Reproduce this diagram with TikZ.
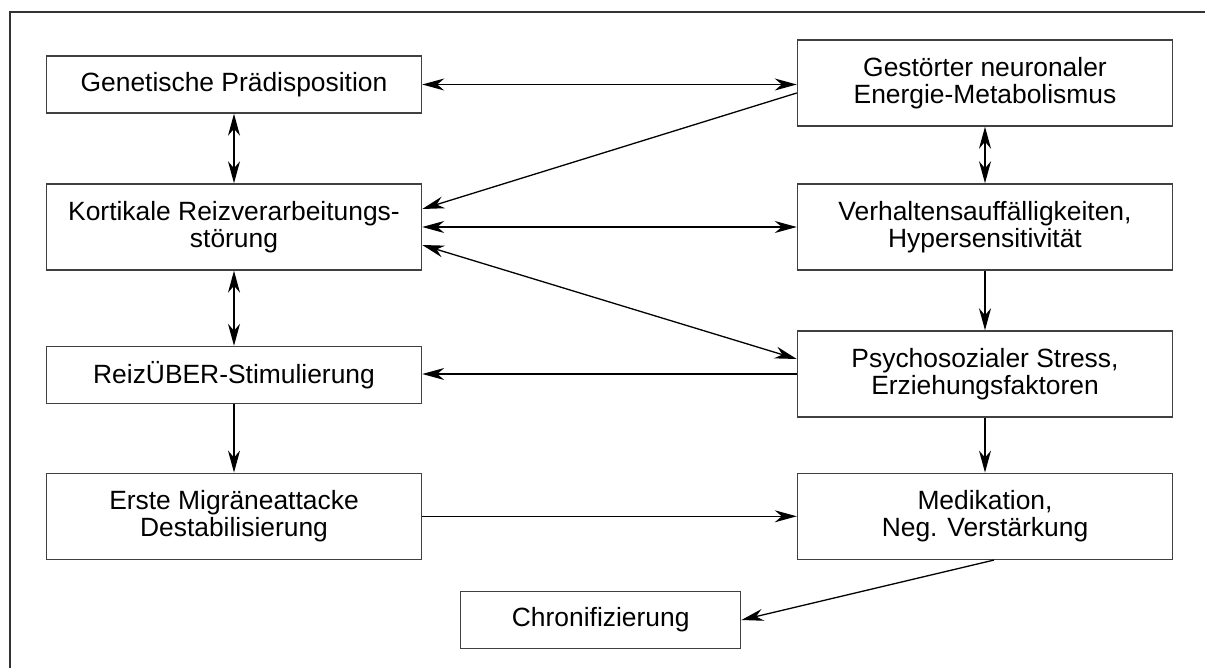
\documentclass[tikz,border=0pt]{standalone}
\usepackage{fontspec}
\setmainfont{Liberation Sans}
\usetikzlibrary{arrows.meta}

\begin{document}
\begin{tikzpicture}[x=1pt, y=-1pt,
    >={Stealth[length=22pt, width=12pt, inset=7pt]},
    box/.style={draw=black!75, line width=1.5pt, minimum width=375pt,
      align=center, font=\fontsize{26.4}{27.5}\selectfont},
    tall/.style={box, minimum height=86pt},
    flat/.style={box, minimum height=57pt},
    every path/.append style={line width=1.3pt}]
    \useasboundingbox (0,0) rectangle (1205,668);
    % Outer frame (right and bottom edges lie off the page)
    \draw[line width=1.5pt, black!80] (10,668) -- (10,12) -- (1205,12);

    % Left column
    \node[flat] (gen)  at (234,84.5)  {Genetische Prädisposition};
    \node[tall] (kort) at (234,227)   {Kortikale Reizverarbeitungs-\\störung};
    \node[flat] (reiz) at (234,375)   {ReizÜBER-Stimulierung};
    \node[tall] (erst) at (234,516.3) {Erste Migräneattacke\\Destabilisierung};
    % Right column
    \node[tall] (gest) at (985,83)    {Gestörter neuronaler\\Energie-Metabolismus};
    \node[tall] (verh) at (985,227)   {Verhaltensauffälligkeiten,\\Hypersensitivität};
    \node[tall] (psy)  at (985,374)   {Psychosozialer Stress,\\Erziehungsfaktoren};
    \node[tall] (med)  at (985,516.3) {Medikation,\\Neg. Verstärkung};
    % Bottom
    \node[flat, minimum width=280pt] (chron) at (600.7,620) {Chronifizierung};

    % Connections
    \draw[<->] (gen.east) -- (gen.east -| gest.west);
    \draw[<->] (gen) -- (kort);
    \draw[<->] (gest) -- (verh);
    \draw[->] ([yshift=-10pt]gest.west) -- ([yshift=18pt]kort.east);
    \draw[<->] (kort) -- (verh);
    \draw[<->] ([yshift=-18pt]kort.east) -- ([yshift=15pt]psy.west);
    \draw[<->] (kort) -- (reiz);
    \draw[->] (verh) -- (psy);
    \draw[->] (psy.west) -- (psy.west -| reiz.east);
    \draw[->] (reiz) -- (erst);
    \draw[->] (psy) -- (med);
    \draw[->] (erst) -- (med);
    \draw[->] ([xshift=9pt]med.south) -- (chron.east);
\end{tikzpicture}
\end{document}
